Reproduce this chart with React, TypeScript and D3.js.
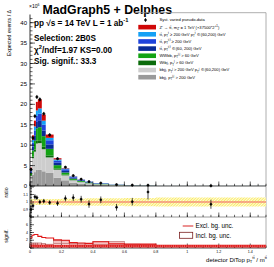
import React from 'react';
import * as d3 from 'd3';

// bin edges of detector DiTop pT/m
const binEdges = [0, 0.0125, 0.025, 0.0375, 0.05, 0.075, 0.1, 0.15, 0.2, 0.25, 0.3, 0.35, 0.4, 0.5, 0.6, 0.7, 0.8, 1.5];

// stacked backgrounds, bottom to top
const bbjjHi = [1.2, 2.7, 3.4, 4.0, 4.0, 3.6, 3.2, 2.0, 1.4, 0.8, 0.55, 0.4, 0.25, 0.13, 0.08, 0.06, 0.015];
const bbjjMid = [1.3, 4.1, 5.0, 6.4, 6.5, 5.4, 3.8, 2.0, 1.2, 0.6, 0.4, 0.25, 0.16, 0.08, 0.04, 0.03, 0.008];
const wtbj = [0.2, 0.4, 0.5, 0.7, 0.7, 0.6, 0.5, 0.3, 0.2, 0.1, 0.07, 0.05, 0.03, 0.02, 0.01, 0.01, 0.002];
const wwbb = [0.5, 1.5, 2.2, 3.0, 3.2, 2.6, 1.6, 0.8, 0.5, 0.3, 0.2, 0.14, 0.09, 0.04, 0.03, 0.02, 0.006];
const ttMid = [0.4, 1.0, 1.3, 1.6, 1.7, 1.4, 1.1, 0.6, 0.4, 0.25, 0.17, 0.12, 0.08, 0.04, 0.02, 0.015, 0.005];
const ttHi = [0.3, 0.9, 1.2, 1.5, 1.6, 1.4, 1.0, 0.5, 0.4, 0.2, 0.13, 0.1, 0.07, 0.03, 0.02, 0.015, 0.004];
const ttMix = [0.3, 0.7, 1.0, 1.3, 1.3, 1.0, 0.6, 0.3, 0.2, 0.1, 0.05, 0.03, 0.02, 0.01, 0, 0, 0];
const zprime = [0.3, 1.1, 1.4, 2.1, 2.2, 1.5, 0.8, 0.3, 0.1, 0.05, 0.03, 0.01, 0, 0, 0, 0, 0];

const pseudoData = [4.05, 11.76, 17.1, 21.8, 21.2, 17.7, 12.5, 6.68, 4.61, 2.54, 1.66, 1.07, 0.72, 0.325, 0.201, 0.17, 0.0388];
const pseudoDataErr = [0.4, 0.5, 0.5, 0.5, 0.5, 0.45, 0.4, 0.3, 0.25, 0.2, 0.15, 0.1, 0.08, 0.05, 0.04, 0.04, 0.01];
const ratioErr = [0.05, 0.04, 0.035, 0.03, 0.03, 0.03, 0.03, 0.035, 0.04, 0.045, 0.045, 0.05, 0.045, 0.045, 0.05, 0.1, 0.06];
const sysUnc = [0.04, 0.04, 0.04, 0.04, 0.04, 0.04, 0.04, 0.04, 0.045, 0.045, 0.045, 0.05, 0.05, 0.05, 0.055, 0.055, 0.06];

// significance panel
const signifExcl = [2.6, 3.3, 3.5, 3.5, 3.0, 2.7, 2.6, 2.1, 2.0, 1.4, 1.3, 1.2, 1.6, 1.1, 1.0, 1.0, 0.5];
const signifInclLo = [0.5, 0.5, 0.5, 0.5, 0.5, 0.5, 0.6, 1.1, 1.1, 0.7, 0.7, 0.7, 0.8, 0.8, 0.6, 0.6, 0.3];
const signifInclHi = [1.3, 1.3, 1.3, 1.3, 1.3, 1.2, 1.0, 2.0, 2.0, 1.1, 1.1, 1.1, 1.7, 1.7, 1.0, 0.9, 0.6];
const signifFloor = 0.5;

const mainYTicks = [0, 5, 10, 15, 20, 25, 30, 35, 40];
const ratioYTicks = [0.9, 1, 1.1];
const signifYTicks = [2, 4, 6];
const xTickLabels = [0, 0.2, 0.4, 0.6, 0.8, 1, 1.2, 1.4];

const series = [
  { key: 'bbjjHi', values: bbjjHi, color: '#9a9a9a', label: 'bbjj, p_{T}^{j,j} > 200 GeV' },
  { key: 'bbjjMid', values: bbjjMid, color: '#cdcdcd', label: 'bbjj, p_{T}^{j} > 200 GeV p_{T}^{j} \u2208 (60,200) GeV' },
  { key: 'wtbj', values: wtbj, color: '#0b6b0b', label: 'Wtbj, p_{T}^{j} > 60 GeV' },
  { key: 'wwbb', values: wwbb, color: '#13a313', label: 'WWbb, p_{T}^{j,j} > 60 GeV' },
  { key: 'ttMid', values: ttMid, color: '#0a2c96', label: 't\u0074\u0304, p_{T}^{t,t\u0304} \u2208 (60, 200) GeV' },
  { key: 'ttHi', values: ttHi, color: '#1f44dc', label: 't\u0074\u0304, p_{T}^{t,t\u0304} \u2265 200 GeV' },
  { key: 'ttMix', values: ttMix, color: '#14a0f5', label: 't\u0074\u0304, p_{T}^{t} \u2265 200 GeV p_{T}^{t\u0304} \u2208 (60,200) GeV' },
  { key: 'zprime', values: zprime, color: '#d00808', label: "Z' \u2192 t\u0074\u0304, m_{Z'} = 1 TeV (\u00d737500*2^{+1})" },
];

const FONT = "'Liberation Sans', Arial, Helvetica, sans-serif";

function rich(s: string, fs: number) {
  const parts: any[] = [];
  const re = /([_^])\{([^}]*)\}/g;
  let last = 0;
  let off = 0;
  let k = 0;
  let m: RegExpExecArray | null;
  while ((m = re.exec(s))) {
    if (m.index > last) {
      parts.push(<tspan key={k++} dy={-off} fontSize={fs}>{s.slice(last, m.index)}</tspan>);
      off = 0;
    }
    const target = m[1] === '_' ? fs * 0.3 : -fs * 0.45;
    parts.push(<tspan key={k++} dy={target - off} fontSize={fs * 0.7}>{m[2]}</tspan>);
    off = target;
    last = re.lastIndex;
  }
  if (last < s.length) parts.push(<tspan key={k++} dy={-off} fontSize={fs}>{s.slice(last)}</tspan>);
  return parts;
}

export default function App() {
  const x = d3.scaleLinear().domain([0, 1.5]).range([30, 266]);
  const yMain = d3.scaleLinear().domain([0, 42]).range([186, 14.5]);
  const yRatio = d3.scaleLinear().domain([0.8, 1.2]).range([217, 187]);
  const ySig = d3.scaleLinear().domain([0, 8]).range([248, 217]);

  const bins = binEdges.slice(0, -1).map((lo, i) => ({ lo, hi: binEdges[i + 1], i }));
  const rows = bins.map((b) => {
    const r: any = { i: b.i };
    series.forEach((s) => (r[s.key] = s.values[b.i]));
    return r;
  });
  const stacked = d3.stack().keys(series.map((s) => s.key))(rows);
  const totals = bins.map((b) => d3.sum(series, (s) => s.values[b.i]));
  const ratio = pseudoData.map((d, i) => d / totals[i]);
  const mid = (b: any) => x((b.lo + b.hi) / 2);

  const stepPath = (vals: number[], y: any) => {
    let p = '';
    bins.forEach((b, i) => {
      p += (i === 0 ? 'M' : 'L') + x(b.lo) + ',' + y(vals[i]) + 'L' + x(b.hi) + ',' + y(vals[i]);
    });
    return p;
  };

  const xMinor = d3.range(0, 1.5001, 0.05);
  const xMajor = d3.range(0, 1.5001, 0.2);
  const xTicks = (yb: number) => (
    <g stroke="#000" strokeWidth={0.6}>
      {xMinor.map((v, i) => (
        <line key={'n' + i} x1={x(v)} x2={x(v)} y1={yb} y2={yb - 2.2} />
      ))}
      {xMajor.map((v, i) => (
        <line key={'j' + i} x1={x(v)} x2={x(v)} y1={yb} y2={yb - 4.5} />
      ))}
    </g>
  );
  const yTicksG = (y: any, minor: number[], major: number[], lmaj: number) => (
    <g stroke="#000" strokeWidth={0.6}>
      {minor.map((v, i) => (
        <line key={'n' + i} x1={30} x2={30 + lmaj / 2} y1={y(v)} y2={y(v)} />
      ))}
      {major.map((v, i) => (
        <line key={'j' + i} x1={30} x2={30 + lmaj} y1={y(v)} y2={y(v)} />
      ))}
    </g>
  );

  const legendRows = [{ key: 'data', color: '#000', label: 'Syst. varied pseudo-data' }, ...series.slice().reverse()];

  return (
    <div style={{ position: 'absolute', left: 0, top: 0 }}>
      <svg width={274} height={267} style={{ display: 'block', background: '#fff' }} fontFamily={FONT}>
        <defs>
          <pattern id="hatch" width={2} height={2} patternUnits="userSpaceOnUse" patternTransform="rotate(45)">
            <rect width={2} height={2} fill="#fffbe0" />
            <line x1={0} y1={0} x2={0} y2={2} stroke="#f5e100" strokeWidth={1.1} />
          </pattern>
        </defs>

        {/* title */}
        <text x={42.5} y={14} fontSize={12.3} fontWeight="bold">MadGraph5 + Delphes</text>

        {/* stacked backgrounds */}
        {stacked.map((layer, si) => (
          <g key={series[si].key} fill={series[si].color}>
            {layer.map((d, i) => (
              <rect
                key={i}
                x={x(bins[i].lo)}
                width={x(bins[i].hi) - x(bins[i].lo)}
                y={yMain(d[1])}
                height={Math.max(0, yMain(d[0]) - yMain(d[1]))}
              />
            ))}
          </g>
        ))}

        {/* pseudo data */}
        <g stroke="#000" strokeWidth={0.7}>
          {bins.map((b, i) => (
            <g key={i}>
              <line x1={mid(b)} x2={mid(b)} y1={yMain(pseudoData[i] + pseudoDataErr[i])} y2={yMain(pseudoData[i] - pseudoDataErr[i])} />
              <circle cx={mid(b)} cy={yMain(pseudoData[i])} r={1.1} fill="#000" />
            </g>
          ))}
        </g>

        {/* frame */}
        <line x1={135} x2={266} y1={12.7} y2={12.7} stroke="#9a9a9a" strokeWidth={0.8} />
        <line x1={266} x2={266} y1={12.7} y2={248} stroke="#9a9a9a" strokeWidth={0.8} />
        <line x1={30} x2={30} y1={14.5} y2={248} stroke="#000" strokeWidth={0.8} />
        <line x1={30} x2={266} y1={186} y2={186} stroke="#000" strokeWidth={0.7} />
        <line x1={30} x2={266} y1={217} y2={217} stroke="#555" strokeWidth={0.6} />
        <line x1={30} x2={266} y1={248} y2={248} stroke="#000" strokeWidth={0.7} />
        {xTicks(186)}
        {xTicks(217)}
        {xTicks(248)}
        {yTicksG(yMain, d3.range(0, 42, 1), mainYTicks, 5)}

        {/* main y labels */}
        {mainYTicks.map((v) => (
          <text key={v} x={27} y={yMain(v) + 2} fontSize={6} textAnchor="end">{v}</text>
        ))}
        <text x={29} y={8} fontSize={5}>{'\u00d710'}<tspan dy={-2} fontSize={3.5}>6</tspan></text>
        <text transform="translate(10.5,10) rotate(-90)" fontSize={5.2} textAnchor="end">{'Expected events / \u0394'}</text>

        {/* info text */}
        <g fontWeight="bold" fontSize={8.2}>
          <text x={34} y={26}>{rich('pp  \u221as = 14 TeV  L = 1 ab^{-1}', 8.2)}</text>
          <text x={34} y={40.5}>Selection: 2B0S</text>
          <text x={34} y={52.5}>{rich('\u03c7^{2}/ndf=1.97 KS=0.00', 8.2)}</text>
          <text x={34} y={64}>Sig. signif.: 33.3</text>
        </g>

        {/* legend */}
        {legendRows.map((r: any, i) => {
          const cy = 20 + i * 7.15;
          return (
            <g key={r.key}>
              {r.key === 'data' ? (
                <g stroke="#000" strokeWidth={0.6}>
                  <line x1={145.5} x2={145.5} y1={cy - 2} y2={cy + 2} />
                  <circle cx={145.5} cy={cy} r={1} fill="#000" />
                </g>
              ) : (
                <rect x={138.3} y={cy - 2.3} width={17.7} height={4.6} fill={r.color} />
              )}
              <text x={159.5} y={cy + 1.4} fontSize={4.1}>{rich(r.label, 4.1)}</text>
            </g>
          );
        })}

        {/* ratio panel */}
        <path
          d={d3.area<any>()
            .curve(d3.curveStepAfter)
            .x((d) => x(d.x))
            .y0((d) => yRatio(1 - d.u))
            .y1((d) => yRatio(1 + d.u))([...bins.map((b, i) => ({ x: b.lo, u: sysUnc[i] })), { x: 1.5, u: sysUnc[sysUnc.length - 1] }]) || ''}
          fill="url(#hatch)"
        />
        <line x1={x(0)} x2={x(1.5)} y1={yRatio(1)} y2={yRatio(1)} stroke="#f4907a" strokeWidth={1.3} />
        <g stroke="#000" strokeWidth={0.7}>
          {bins.map((b, i) => (
            <g key={i}>
              <line x1={mid(b)} x2={mid(b)} y1={yRatio(Math.min(1.2, ratio[i] + ratioErr[i]))} y2={yRatio(Math.max(0.8, ratio[i] - ratioErr[i]))} />
              <circle cx={mid(b)} cy={yRatio(ratio[i])} r={1} fill="#000" />
            </g>
          ))}
        </g>
        {yTicksG(yRatio, d3.range(0.8, 1.2001, 0.02), d3.range(0.8, 1.2001, 0.1), 4)}
        {ratioYTicks.map((v) => (
          <text key={v} x={28} y={yRatio(v) + 1.2} fontSize={3.5} textAnchor="end">{v}</text>
        ))}
        <text transform="translate(7.5,192.5) rotate(-90)" fontSize={5.2} textAnchor="middle">ratio</text>

        {/* significance panel */}
        {bins.map((b, i) => (
          <rect
            key={i}
            x={x(b.lo)}
            width={x(b.hi) - x(b.lo)}
            y={ySig(signifInclHi[i])}
            height={ySig(signifInclLo[i]) - ySig(signifInclHi[i])}
            fill="#f2a8a8"
            fillOpacity={0.7}
            stroke="#8a2a2a"
            strokeWidth={0.4}
          />
        ))}
        <path d={stepPath(signifExcl, ySig)} fill="none" stroke="#e01818" strokeWidth={1.1} />
        <line x1={x(0)} x2={x(1.5)} y1={ySig(signifFloor)} y2={ySig(signifFloor)} stroke="#e01818" strokeWidth={2.8} />
        <line x1={x(0)} x2={x(1.5)} y1={ySig(signifFloor)} y2={ySig(signifFloor)} stroke="#fff" strokeWidth={0.6} strokeDasharray="1,1.2" />
        {yTicksG(ySig, d3.range(0, 8.001, 0.5), d3.range(0, 8.001, 2), 4)}
        {signifYTicks.map((v) => (
          <text key={v} x={28} y={ySig(v) + 1.2} fontSize={3.5} textAnchor="end">{v}</text>
        ))}
        <text transform="translate(7.5,236) rotate(-90)" fontSize={5.2} textAnchor="middle">signif.</text>

        <line x1={182.7} x2={193.3} y1={226} y2={226} stroke="#e04848" strokeWidth={1.2} />
        <text x={195.5} y={228.2} fontSize={6.3}>Excl. bg. unc.</text>
        <rect x={179.5} y={232.3} width={13.2} height={6} fill="#fff" stroke="#7a2020" strokeWidth={0.8} />
        <text x={195.5} y={237.6} fontSize={6.3}>Incl. bg. unc.</text>

        {/* x axis labels */}
        {xTickLabels.map((v) => (
          <text key={v} x={x(v)} y={252.8} fontSize={3.6} textAnchor="middle">{v}</text>
        ))}
        <text x={267} y={261.5} fontSize={6} textAnchor="end">
          {rich('detector DiTop p_{T}^{t\u0074\u0304} / m^{t\u0074\u0304}', 6)}
        </text>
      </svg>
    </div>
  );
}
